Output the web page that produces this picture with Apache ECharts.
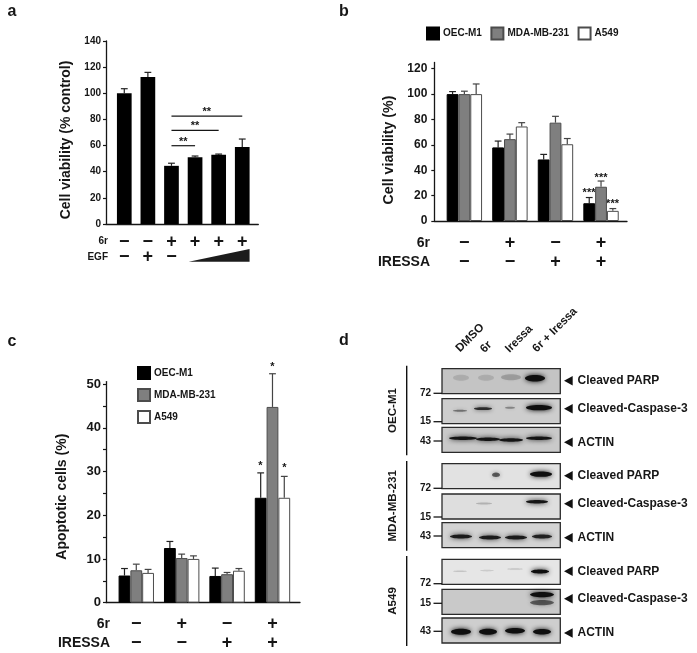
<!DOCTYPE html>
<html><head><meta charset="utf-8">
<style>html,body{margin:0;padding:0;background:#fff}#c{width:697px;height:653px}</style>
<script src="https://cdn.jsdelivr.net/npm/echarts@6/dist/echarts.min.js"></script>
</head><body><div id="c"></div>
<script>
// ---------- panel a ----------
var aValues = [100, 112.5, 44.5, 51, 53, 59];
var aTops   = [103.5, 116, 46.5, 52, 53.5, 65];
var aRow6r  = ['\u2212','\u2212','+','+','+','+'];
var aRowEGF = ['\u2212','+','\u2212'];
var aBrackets = [[2,3,59.9],[2,4,71.7],[2,5,82.6]];
// ---------- panel b ----------
var cellLines = ['OEC-M1','MDA-MB-231','A549'];
var bOEC = [100,58,48.5,14], bOECTop = [102,63,52.5,18.5];
var bMDA = [100,64.5,77.5,27], bMDATop = [102.3,68.5,82.5,31.5];
var bA549 = [100,74.5,60.5,8], bA549Top = [108,77.5,65,9.8];
var bStars = [21.8,33.8,13.4];
// ---------- panel c ----------
var cOEC = [6.2,12.5,6.1,24], cOECTop = [7.8,14,7.9,29.7];
var cMDA = [7.4,10.2,6.5,44.8], cMDATop = [8.8,11.1,6.9,52.4];
var cA549 = [6.8,10,7.3,24], cA549Top = [7.6,10.7,7.8,28.9];
var cStars = [31.3,53.9,30.8];
var row6r = ['\u2212','+','\u2212','+'];
var rowIRESSA = ['\u2212','\u2212','+','+'];
// ---------- panel d : bands per blot: [lane x, band y, half length, half thickness, darkness] ----------
var blotBg = ['#c4c4c4','#cdcdcd','#c9c9c9','#e2e2e2','#dedede','#d3d3d3','#e6e6e6','#c9c9c9','#cecece'];
var blotTop = [3.7,33.7,62.3,98.7,129,157.7,194.3,224.3,253];
var oecParp = [[19,9,8,3,.12],[44,9,8,3,.12],[69,8.5,10,3,.2],[93,9.5,10,3.2,1]];
var oecCasp = [[18,12,7,1,.45],[41,10,9,1.4,.8],[68,9,5,1,.35],[97,9,13,2.6,1]];
var oecActin = [[21,11,14,1.7,.95],[46,12,12,1.7,.95],[69,12.7,12,1.7,.95],[97,11,13,1.7,.95]];
var mdaParp = [[54,11,4,2.3,.6],[99,10.5,11,2.6,1]];
var mdaCasp = [[42,9.5,8,1,.2],[95,7.7,11,1.7,.95]];
var mdaActin = [[19,13.7,11,2,.9],[48,14.7,11,2,.9],[74,14.7,11,2,.9],[100,13.7,10,2,.85]];
var a549Parp = [[18,12,7,.8,.15],[45,11.3,7,.8,.12],[73,9.7,8,.8,.15],[98,12.3,9,2,1]];
var a549Casp = [[100,5.3,12,2.7,1],[100,13.3,12,2.7,.55]];
var a549Actin = [[19,13.7,10,3,1],[46,13.7,9,3,1],[73,12.7,10,2.8,1],[100,13.7,9,2.8,1]];
var blotBands = [oecParp,oecCasp,oecActin,mdaParp,mdaCasp,mdaActin,a549Parp,a549Casp,a549Actin];
var targets = ['Cleaved PARP','Cleaved-Caspase-3','ACTIN'];
var targetY = [15.7,43.7,77.3,110.7,138.7,172.7,206.3,233.7,268];
var lanes = ['DMSO','6r','Iressa','6r + Iressa'];
var lanePos = [[28,-27],[44,-18],[77,-26],[113,-35]];
var markers = [['72',28.3],['15',56.7],['43',76],['72',123.3],['15',152],['43',171],['72',218.7],['15',238.3],['43',266.3]];
var cellSpans = [['OEC-M1',.7,90.3],['MDA-MB-231',96,185.7],['A549',191,281]];

var FF = '"Liberation Sans", Arial, sans-serif';
var INK = '#161616';
var GREY = '#7f7f7f', EDGE = '#4c4c4c';

var grids = [
  {left:106,top:41,width:152.3,height:183},
  {left:434.3,top:62.4,width:192.7,height:158.6},
  {left:106,top:381.6,width:194,height:221},
  {left:442,top:365,width:118.3,height:285}
];
function xA(i,min,max,show){return {gridIndex:i,type:'value',min:min,max:max,show:show!==false,
  axisLine:{show:true,onZero:false,lineStyle:{color:INK,width:1.3}},axisTick:{show:false},axisLabel:{show:false},splitLine:{show:false}};}
function yA(i,max,ticks,labels,size,margin){return {gridIndex:i,type:'value',min:0,max:max,
  axisLine:{show:true,onZero:false,lineStyle:{color:INK,width:1.3}},
  axisTick:{show:true,length:3,customValues:ticks,lineStyle:{color:INK,width:1.2}},
  axisLabel:{show:true,customValues:labels,margin:margin,color:INK,fontFamily:FF,fontWeight:'bold',fontSize:size},
  splitLine:{show:false}};}

function barSeries(g,name,vals,style,width){
  return {type:'bar',name:name,xAxisIndex:g,yAxisIndex:g,barWidth:width,barGap:0,
    data:vals.map(function(v,i){return [i,v];}),itemStyle:style,silent:true};
}
function whiskers(g,vals,tops,offset,color){
  return {type:'custom',coordinateSystem:'cartesian2d',xAxisIndex:g,yAxisIndex:g,silent:true,z:1,
    data:vals.map(function(v,i){return [i,v,tops[i]];}),
    renderItem:function(p,api){
      var a=api.coord([api.value(0),api.value(1)]),b=api.coord([api.value(0),api.value(2)]);
      var x=a[0]+offset,st={stroke:color,lineWidth:1.2};
      return {type:'group',children:[
        {type:'line',shape:{x1:x,y1:a[1],x2:x,y2:b[1]},style:st},
        {type:'line',shape:{x1:x-3.4,y1:b[1],x2:x+3.4,y2:b[1]},style:st}]};
    }};
}
function signRow(g,signs,label,dy,labelX,labelSize){
  return {type:'custom',coordinateSystem:'cartesian2d',xAxisIndex:g,yAxisIndex:g,silent:true,
    data:signs.map(function(s,i){return [i,0];}),
    renderItem:function(p,api){
      var c=api.coord([api.value(0),0]);
      var kids=[{type:'text',style:{text:signs[p.dataIndex],x:c[0],y:c[1]+dy,align:'center',verticalAlign:'middle',
        font:'bold 18px '+FF,fill:INK}}];
      if(p.dataIndex===0) kids.push({type:'text',style:{text:label,x:labelX,y:c[1]+dy,align:'right',verticalAlign:'middle',
        font:'bold '+labelSize+'px '+FF,fill:INK}});
      return {type:'group',children:kids};
    }};
}
function starMarks(g,vals,offsets,text,size){
  return {type:'custom',coordinateSystem:'cartesian2d',xAxisIndex:g,yAxisIndex:g,silent:true,
    data:vals.map(function(v){return [3,v];}),
    renderItem:function(p,api){
      var c=api.coord([3,api.value(1)]);
      return {type:'text',style:{text:text,x:c[0]+offsets[p.dataIndex],y:c[1],align:'center',verticalAlign:'middle',
        font:'bold '+size+'px '+FF,fill:INK}};
    }};
}
var series=[];
// a
series.push(barSeries(0,'a',aValues,{color:'#000'},14.7));
series.push(whiskers(0,aValues,aTops,0,'#222'));
series.push(signRow(0,aRow6r,'6r',17.7,108,10));
series.push(signRow(0,aRowEGF,'EGF',33,108,10));
series.push({type:'custom',coordinateSystem:'cartesian2d',xAxisIndex:0,yAxisIndex:0,silent:true,
  data:aBrackets,
  renderItem:function(p,api){
    var a=api.coord([api.value(0),api.value(2)]),b=api.coord([api.value(1),api.value(2)]);
    return {type:'group',children:[
      {type:'line',shape:{x1:a[0],y1:a[1],x2:b[0],y2:b[1]},style:{stroke:INK,lineWidth:1.2}},
      {type:'text',style:{text:'**',x:(a[0]+b[0])/2,y:a[1]-4,align:'center',verticalAlign:'middle',font:'bold 11px '+FF,fill:INK}}]};
  }});
series.push({type:'custom',coordinateSystem:'cartesian2d',xAxisIndex:0,yAxisIndex:0,silent:true,
  data:[[2.73,0],[5.31,0]],
  renderItem:function(p,api){
    if(p.dataIndex!==1) return null;
    var a=api.coord([2.73,0]),b=api.coord([5.31,0]);
    return {type:'polygon',shape:{points:[[a[0],a[1]+37.7],[b[0],b[1]+37.7],[b[0],b[1]+25]]},style:{fill:'#1c1c1c'}};
  }});
// b & c
var sBlack={color:'#000',borderColor:'#000',borderWidth:1};
var sGrey={color:GREY,borderColor:EDGE,borderWidth:1};
var sWhite={color:'#fff',borderColor:EDGE,borderWidth:1};
[[1,[bOEC,bMDA,bA549],[bOECTop,bMDATop,bA549Top]],[2,[cOEC,cMDA,cA549],[cOECTop,cMDATop,cA549Top]]].forEach(function(r){
  var g=r[0];
  [sBlack,sGrey,sWhite].forEach(function(st,k){series.push(barSeries(g,cellLines[k],r[1][k],st,11.8));});
  [['#222',-11.8],['#444',0],['#444',11.8]].forEach(function(w,k){series.push(whiskers(g,r[1][k],r[2][k],w[1],w[0]));});
  series.push(signRow(g,row6r,'6r',g===1?21.7:21.3,g===1?430:110,14));
  series.push(signRow(g,rowIRESSA,'IRESSA',g===1?41.3:40.6,g===1?430:110,14));
});
series.push(starMarks(1,bStars,[-12,0,11.5],'***',11));
series.push(starMarks(2,cStars,[-12,0,11.8],'*',11));
// d : blots
series.push({type:'custom',coordinateSystem:'cartesian2d',xAxisIndex:3,yAxisIndex:3,silent:true,
  data:blotTop.map(function(t,i){return [i,t];}),
  renderItem:function(p,api){
    var i=p.dataIndex,t=api.value(1);
    var o=api.coord([0,t]),e=api.coord([118.3,t+25]);
    var kids=[{type:'rect',shape:{x:o[0],y:o[1],width:e[0]-o[0],height:e[1]-o[1]},
      style:{fill:blotBg[i],stroke:'#2a2a2a',lineWidth:1.3}}];
    blotBands[i].forEach(function(b){
      var c=api.coord([b[0],t+b[1]]);
      var d=b[4],col='rgba(15,15,15,'+d+')';
      kids.push({type:'ellipse',shape:{cx:c[0],cy:c[1],rx:b[2],ry:b[3]},style:{fill:col,shadowColor:col,shadowBlur:3+2*d}});
    });
    return {type:'group',children:kids};
  }});
// d : target labels and arrowheads
series.push({type:'custom',coordinateSystem:'cartesian2d',xAxisIndex:3,yAxisIndex:3,silent:true,
  data:targetY.map(function(y,i){return [122,y];}),
  renderItem:function(p,api){
    var c=api.coord([api.value(0),api.value(1)]);
    return {type:'group',children:[
      {type:'polygon',shape:{points:[[c[0],c[1]],[c[0]+8.7,c[1]-4.8],[c[0]+8.7,c[1]+4.8]]},style:{fill:'#111'}},
      {type:'text',style:{text:targets[p.dataIndex%3],x:c[0]+13.5,y:c[1],align:'left',verticalAlign:'middle',font:'bold 12px '+FF,fill:INK}}]};
  }});
// d : marker sizes
series.push({type:'custom',coordinateSystem:'cartesian2d',xAxisIndex:3,yAxisIndex:3,silent:true,
  data:markers.map(function(m){return [0,m[1]];}),
  renderItem:function(p,api){
    var c=api.coord([0,api.value(1)]);
    return {type:'group',children:[
      {type:'line',shape:{x1:c[0]-8.5,y1:c[1],x2:c[0],y2:c[1]},style:{stroke:INK,lineWidth:1.3}},
      {type:'text',style:{text:markers[p.dataIndex][0],x:c[0]-11,y:c[1],align:'right',verticalAlign:'middle',font:'bold 10px '+FF,fill:INK}}]};
  }});
// d : cell line spans
series.push({type:'custom',coordinateSystem:'cartesian2d',xAxisIndex:3,yAxisIndex:3,silent:true,
  data:cellSpans.map(function(s){return [-35,s[1],s[2]];}),
  renderItem:function(p,api){
    var a=api.coord([-35.3,api.value(1)]),b=api.coord([-35.3,api.value(2)]);
    return {type:'group',children:[
      {type:'line',shape:{x1:a[0],y1:a[1],x2:b[0],y2:b[1]},style:{stroke:'#111',lineWidth:1.4}},
      {type:'text',rotation:Math.PI/2,x:a[0]-14,y:(a[1]+b[1])/2,style:{text:cellSpans[p.dataIndex][0],x:0,y:0,align:'center',verticalAlign:'middle',font:'bold 11.6px '+FF,fill:INK}}]};
  }});
// d : lane titles
series.push({type:'custom',coordinateSystem:'cartesian2d',xAxisIndex:3,yAxisIndex:3,silent:true,
  data:lanePos,
  renderItem:function(p,api){
    var c=api.coord([api.value(0),api.value(1)]);
    return {type:'text',rotation:Math.PI/4,x:c[0],y:c[1],style:{text:lanes[p.dataIndex],x:0,y:0,align:'center',verticalAlign:'middle',font:'bold 11.6px '+FF,fill:INK}};
  }});
function T(text,x,y,size,rot){return {type:'text',x:x,y:y,rotation:rot||0,silent:true,
  style:{text:text,x:0,y:0,align:'center',verticalAlign:'middle',font:'bold '+size+'px '+FF,fill:INK}};}
var option={
  animation:false,backgroundColor:'#fff',
  grid:grids,
  xAxis:[xA(0,-0.775,5.68),xA(1,-0.66,3.57),xA(2,-0.667,3.606),xA(3,0,118.3,false)],
  yAxis:[
    yA(0,140,[0,20,40,60,80,100,120,140],[0,20,40,60,80,100,120,140],10,5),
    yA(1,125,[0,20,40,60,80,100,120],[0,20,40,60,80,100,120],12,7),
    yA(2,50.6,[0,5,10,15,20,25,30,35,40,45,50],[0,10,20,30,40,50],13,5),
    {gridIndex:3,type:'value',min:0,max:285,inverse:true,show:false,splitLine:{show:false}}
  ],
  legend:[
    {data:cellLines.map(function(n){return {name:n,icon:'rect'};}),left:426,top:26.5,padding:0,itemWidth:12,itemHeight:12,itemGap:8.5,selectedMode:false,
     textStyle:{color:INK,fontFamily:FF,fontWeight:'bold',fontSize:10,padding:[0,0,0,-1]}},
    {data:cellLines.map(function(n){return {name:n,icon:'rect'};}),orient:'vertical',left:137,top:366,padding:0,itemWidth:12,itemHeight:12,itemGap:8,selectedMode:false,
     textStyle:{color:INK,fontFamily:FF,fontWeight:'bold',fontSize:10,padding:[0,0,0,-1]}}
  ],
  series:series,
  graphic:{elements:[
    T('a',12,12,16),T('b',344,12,16),T('c',12,342,16),T('d',344,341,16),
    T('Cell viability (% control)',66,140,14,Math.PI/2),
    T('Cell viability (%)',389,150,14.2,Math.PI/2),
    T('Apoptotic cells (%)',61.7,496.7,14,Math.PI/2)
  ]}
};
var chart=echarts.init(document.getElementById('c'),null,{renderer:'canvas'});
chart.setOption(option);
</script></body></html>
